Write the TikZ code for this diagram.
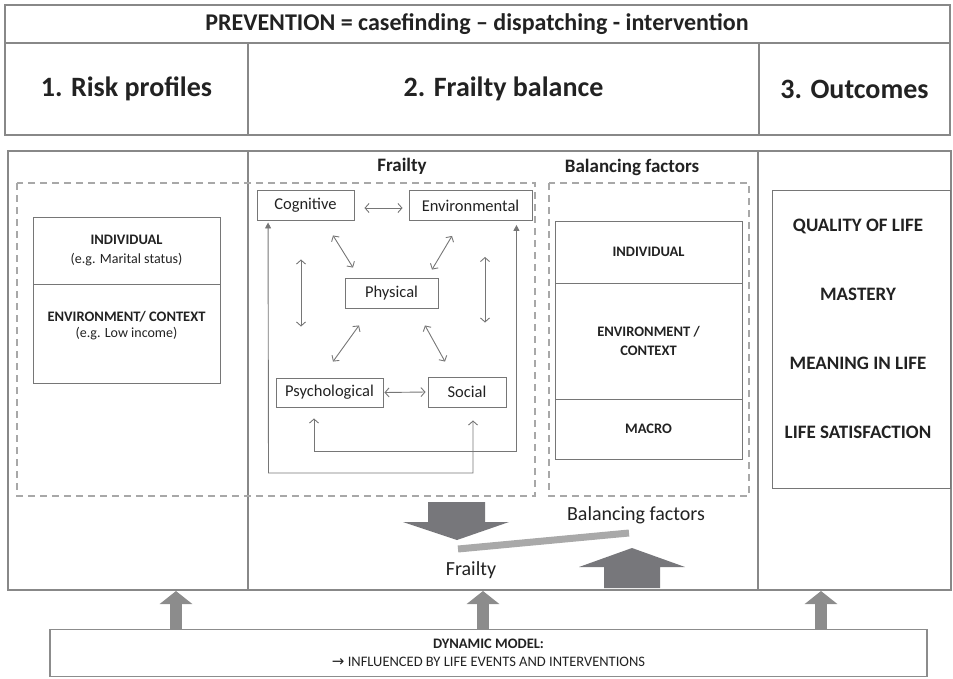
\documentclass[tikz,border=0pt]{standalone}
\usepackage{fontspec}
\setmainfont{Carlito}
\usetikzlibrary{arrows.meta}
\definecolor{framegray}{HTML}{888888}
\definecolor{boxgray}{HTML}{767676}
\definecolor{dashgray}{HTML}{A8A8A8}
\definecolor{arrowgray}{HTML}{77777B}
\definecolor{footgray}{HTML}{8C8C8C}
\definecolor{beamgray}{HTML}{A9A9A9}
\definecolor{inkgray}{HTML}{222222}

\begin{document}
\begin{tikzpicture}[x=1pt, y=-1pt, text=inkgray,
  every node/.style={inner sep=0pt, font=\fontsize{14}{17}\selectfont},
  frame/.style={draw=framegray, line width=1.4pt},
  dashbox/.style={draw=dashgray, line width=1.6pt, dash pattern=on 7pt off 5pt},
  head/.style={font=\fontsize{28}{32}\selectfont\bfseries},
  sub/.style={font=\fontsize{19}{22}\selectfont\bfseries},
  factor/.style={draw=boxgray, line width=0.9pt, minimum height=30pt, font=\fontsize{16.5}{19}\selectfont},
  stack/.style={draw=boxgray, line width=0.9pt, minimum width=187pt, align=center, font=\fontsize{14.5}{19}\selectfont\bfseries},
  outcome/.style={font=\fontsize{19}{22}\selectfont\bfseries},
  dbl/.style={draw=boxgray, line width=0.9pt, {Straight Barb[length=4pt,width=9pt]}-{Straight Barb[length=4pt,width=9pt]}},
  loopline/.style={draw=boxgray, line width=0.9pt},
  heavy/.style={fill=arrowgray},
  foot/.style={draw=footgray, line width=12pt, -{Triangle[length=13pt,width=32pt]}}]
  \useasboundingbox (0,0) rectangle (953,678);

  % header rows
  \draw[frame] (5,5) rectangle (950,135);
  \draw[frame] (5,43) -- (950,43) (248,43) -- (248,135) (759,43) -- (759,135);
  \node[font=\fontsize{24}{27}\selectfont\bfseries] (prevention) at (477,24) {PREVENTION = casefinding – dispatching - intervention};
  \node[head] (riskhead) at (126.5,89) {1. Risk profiles};
  \node[head] (balancehead) at (503.5,89) {2. Frailty balance};
  \node[head] (outcomehead) at (854.5,89) {3. Outcomes};

  % body columns
  \draw[frame] (8,151) rectangle (951,590);
  \draw[frame] (248,151) -- (248,590) (758,151) -- (758,590);
  \draw[dashbox] (17,183) rectangle (535,496);
  \draw[dashbox] (549,183) rectangle (749,496);
  \node[sub] (frailtytitle) at (402,166) {Frailty};
  \node[sub] (factortitle) at (632,167) {Balancing factors};

  % risk profiles
  \node[stack, minimum height=67pt] (riskind) at (126.5,250.5) {INDIVIDUAL\\{\mdseries\fontsize{14}{19}\selectfont (e.g. Marital status)}};
  \node[stack, minimum height=99pt] (riskenv) at (126.5,333.5) {};
  \node[align=center, font=\fontsize{14.5}{15.5}\selectfont\bfseries] (riskenvtext) at (126.5,325.5) {ENVIRONMENT/ CONTEXT\\{\mdseries\fontsize{14}{15.5}\selectfont (e.g. Low income)}};

  % frailty domains
  \node[factor, minimum width=97pt] (cog) at (305.5,205) {Cognitive};
  \node[factor, minimum width=123pt] (env) at (470.5,205.5) {Environmental};
  \node[factor, minimum width=93pt] (phys) at (391.5,293) {Physical};
  \node[factor, minimum width=107pt, minimum height=29pt] (psy) at (329.5,392.5) {Psychological};
  \node[factor, minimum width=78pt] (soc) at (467,392) {Social};

  \draw[dbl] ([shift={(10,3)}]cog.east) -- ([shift={(-6,2.5)}]env.west);
  \draw[dbl] ([shift={(27.5,15)}]cog.south) -- ([shift={(-38.5,-10)}]phys.north);
  \draw[dbl] ([shift={(-18.5,15)}]env.south) -- ([shift={(40.5,-8)}]phys.north);
  \draw[dbl] ([shift={(-32.5,17)}]phys.south) -- ([shift={(3.5,-16)}]psy.north);
  \draw[dbl] ([shift={(33.5,17)}]phys.south) -- ([shift={(-22,-15)}]soc.north);
  \draw[dbl] ([shift={(-4.5,39)}]cog.south) -- ([shift={(-28.5,-51)}]psy.north);
  \draw[dbl] ([shift={(14.5,36)}]env.south) -- ([shift={(18,-54)}]soc.north);
  \draw[dbl] ([xshift=1pt]psy.east) -- ([xshift=-2pt]soc.west);

  \coordinate (cogloop) at (268.5,473);
  \coordinate (envloop) at (314,451);
  \draw[loopline, {Triangle[length=6pt,width=6pt]}-{Straight Barb[length=4pt,width=9pt]}]
    ([shift={(11.5,2)}]cog.south west) -- (cogloop) -| ([shift={(6,13)}]soc.south);
  \draw[loopline, {Straight Barb[length=4pt,width=9pt]}-{Triangle[length=6pt,width=6pt]}]
    ([shift={(-15.5,11)}]psy.south) -- (envloop) -| ([shift={(-16,4)}]env.south east);

  % balancing factors
  \node[stack, minimum height=62pt] (balind) at (648.5,252) {INDIVIDUAL};
  \node[stack, minimum height=116pt] (balenv) at (648.5,341) {ENVIRONMENT /\\CONTEXT};
  \node[stack, minimum height=60pt] (balmacro) at (648.5,429) {MACRO};

  % outcomes
  \node[draw=boxgray, line width=0.9pt, minimum width=178pt, minimum height=298pt] (outbox) at (861,339) {};
  \node[outcome] (qol) at (858,226) {QUALITY OF LIFE};
  \node[outcome] (mastery) at (858,294) {MASTERY};
  \node[outcome] (meaning) at (858,363) {MEANING IN LIFE};
  \node[outcome] (satisfaction) at (858,432) {LIFE SATISFACTION};

  % the balance
  \fill[heavy] (428,502) -- (485,502) -- (485,522) -- (509,522) -- (457,540) -- (403,522) -- (428,522) -- cycle;
  \fill[heavy] (604,588) -- (604,567) -- (579,567) -- (632,548) -- (685,567) -- (660,567) -- (660,588) -- cycle;
  \draw[beamgray, line width=7pt] (458,549) -- (629,533);
  \node[font=\fontsize{20}{22}\selectfont] (balancelabel) at (636,515) {Balancing factors};
  \node[font=\fontsize{20}{22}\selectfont] (frailtylabel) at (471,570) {Frailty};

  % dynamic model
  \node[draw=footgray, line width=1.4pt, minimum width=877pt, minimum height=47pt, align=center,
    font=\fontsize{14.5}{18}\selectfont] (dynamic) at (488.5,653)
    {\textbf{DYNAMIC MODEL:}\\{\fontspec{DejaVu Sans}\fontsize{15}{15}\selectfont→} INFLUENCED BY LIFE EVENTS AND INTERVENTIONS};
  \coordinate (riskfoot) at (176,591);
  \coordinate (balancefoot) at (483,591);
  \coordinate (outcomefoot) at (821,591);
  \draw[foot] (dynamic.north -| riskfoot) -- (riskfoot);
  \draw[foot] (dynamic.north -| balancefoot) -- (balancefoot);
  \draw[foot] (dynamic.north -| outcomefoot) -- (outcomefoot);
\end{tikzpicture}
\end{document}
